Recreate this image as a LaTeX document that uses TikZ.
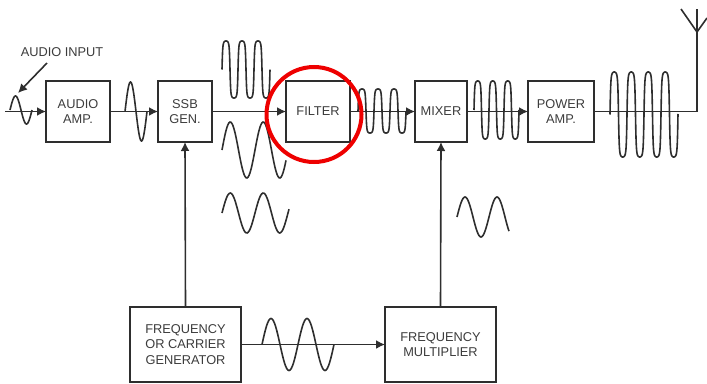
\documentclass[tikz,border=0pt]{standalone}
\usepackage{fontspec}
\setmainfont{Liberation Sans}
\usetikzlibrary{positioning, arrows.meta}

\begin{document}
\begin{tikzpicture}[
    x=1pt, y=-1pt,
    declare function={pulse(\t)=1.044*sin(\t)/sqrt(sin(\t)*sin(\t)+0.09);},
    % Node styles
    block/.style={
        draw=inkgrey, line width=1.7pt, outer sep=0pt, inner sep=0pt,
        minimum height=61pt, align=center,
        font=\fontsize{12.8}{15.5}\selectfont, text=textgrey
    },
    bigblock/.style={block, minimum width=111pt, minimum height=75pt},
    caption/.style={font=\fontsize{12.8}{15.5}\selectfont, text=textgrey, inner sep=0pt},
    % Edge styles
    edge/.style={draw=inkgrey, line width=1.6pt},
    arrow/.style={edge, -{Latex[length=9pt, width=9pt]}},
    wave/.style={draw=inkgrey, line width=1.6pt, smooth},
    % Highlight ring
    ring/.style={draw=ringred, line width=4pt, circle, minimum size=95pt, inner sep=0pt},
]
\definecolor{inkgrey}{HTML}{2E2E2E}
\definecolor{textgrey}{HTML}{3C3C3C}
\definecolor{ringred}{HTML}{EE0000}

\useasboundingbox (0,0) rectangle (707,383);

% ===== TOP ROW =====
\node[block, minimum width=64pt] (audio-amp) at (78,111.5) {AUDIO\\AMP.};
\node[block, minimum width=54pt, right=48pt of audio-amp] (ssb-gen) {SSB\\GEN.};
\node[block, minimum width=64pt, right=74pt of ssb-gen] (filter) {FILTER};
\node[block, minimum width=52pt, right=65pt of filter] (mixer) {MIXER};
\node[block, minimum width=66pt, right=61pt of mixer] (power-amp) {POWER\\AMP.};

% ===== BOTTOM ROW =====
\node[bigblock] (carrier-gen) at (185.5,344.5) {FREQUENCY\\OR CARRIER\\GENERATOR};
\node[bigblock, right=144pt of carrier-gen] (freq-mult) {FREQUENCY\\MULTIPLIER};

% Free ends
\coordinate (audio-in) at (5,111.5);
\coordinate (antenna-foot) at (697,111.5);
\coordinate (antenna-base) at (697,32);
\coordinate (antenna-left) at (681,9);
\coordinate (antenna-mid) at (697,9);
\coordinate (antenna-right) at (707,18);

% Audio input label
\node[caption] (audio-label) at (62,52) {AUDIO INPUT};
\coordinate (audio-start) at (47,63);
\coordinate (audio-tip) at (18,93);
\draw[arrow] (audio-start) -- (audio-tip);

% ===== CONNECTORS =====
\draw[arrow] (audio-in) -- (audio-amp);
\draw[arrow] (audio-amp) -- (ssb-gen);
\draw[arrow] (ssb-gen) -- (filter);
\draw[arrow] (filter) -- (mixer);
\draw[arrow] (mixer) -- (power-amp);
\draw[edge] (power-amp) -- (antenna-foot) -- (antenna-base);
\draw[arrow] (carrier-gen.north) -- (ssb-gen.south);
\draw[arrow] (freq-mult.north) -- (mixer.south);
\draw[arrow] (carrier-gen) -- (freq-mult);

% Antenna
\draw[edge] (antenna-left) -- (antenna-base) -- (antenna-right);
\draw[edge] (antenna-mid) -- (antenna-base);

% ===== WAVEFORMS =====
% Audio input and amplified audio
\draw[wave, shift={(10,110)}] plot[domain=0:22, samples=45] (\x, {-14*sin(16.36*\x)});
\draw[wave, shift={(125,111.5)}] plot[domain=0:22, samples=45] (\x, {-29.5*sin(16.36*\x)});

% Outputs of the SSB generator
\draw[wave, shift={(222,69.5)}] plot[domain=0:48, samples=145] (\x, {-28.5*pulse(22.5*\x)});
\draw[wave, shift={(222,150)}] plot[domain=0:64, samples=65] (\x, {-28*sin(10.91*\x)});
\draw[wave, shift={(222,213)}] plot[domain=0:67, samples=65] (\x, {-20*sin(10.91*\x)});

% Filter, mixer and power amplifier outputs
\draw[wave, shift={(358,111)}] plot[domain=0:48, samples=145] (\x, {-22*pulse(22.5*\x)});
\draw[wave, shift={(474,110)}] plot[domain=0:45, samples=145] (\x, {-29*pulse(24*\x)});
\draw[wave, shift={(610,114.5)}] plot[domain=0:68, samples=193] (\x, {-42.5*pulse(21.18*\x)});

% Multiplier and carrier
\draw[wave, shift={(457,217)}] plot[domain=0:52, samples=53] (\x, {-20*sin(11.25*\x)});
\draw[wave, shift={(262,344.5)}] plot[domain=0:72, samples=65] (\x, {-26*sin(10*\x)});

% Highlight on the filter
\node[ring] (filter-ring) at (314,114.5) {};

\end{tikzpicture}
\end{document}
